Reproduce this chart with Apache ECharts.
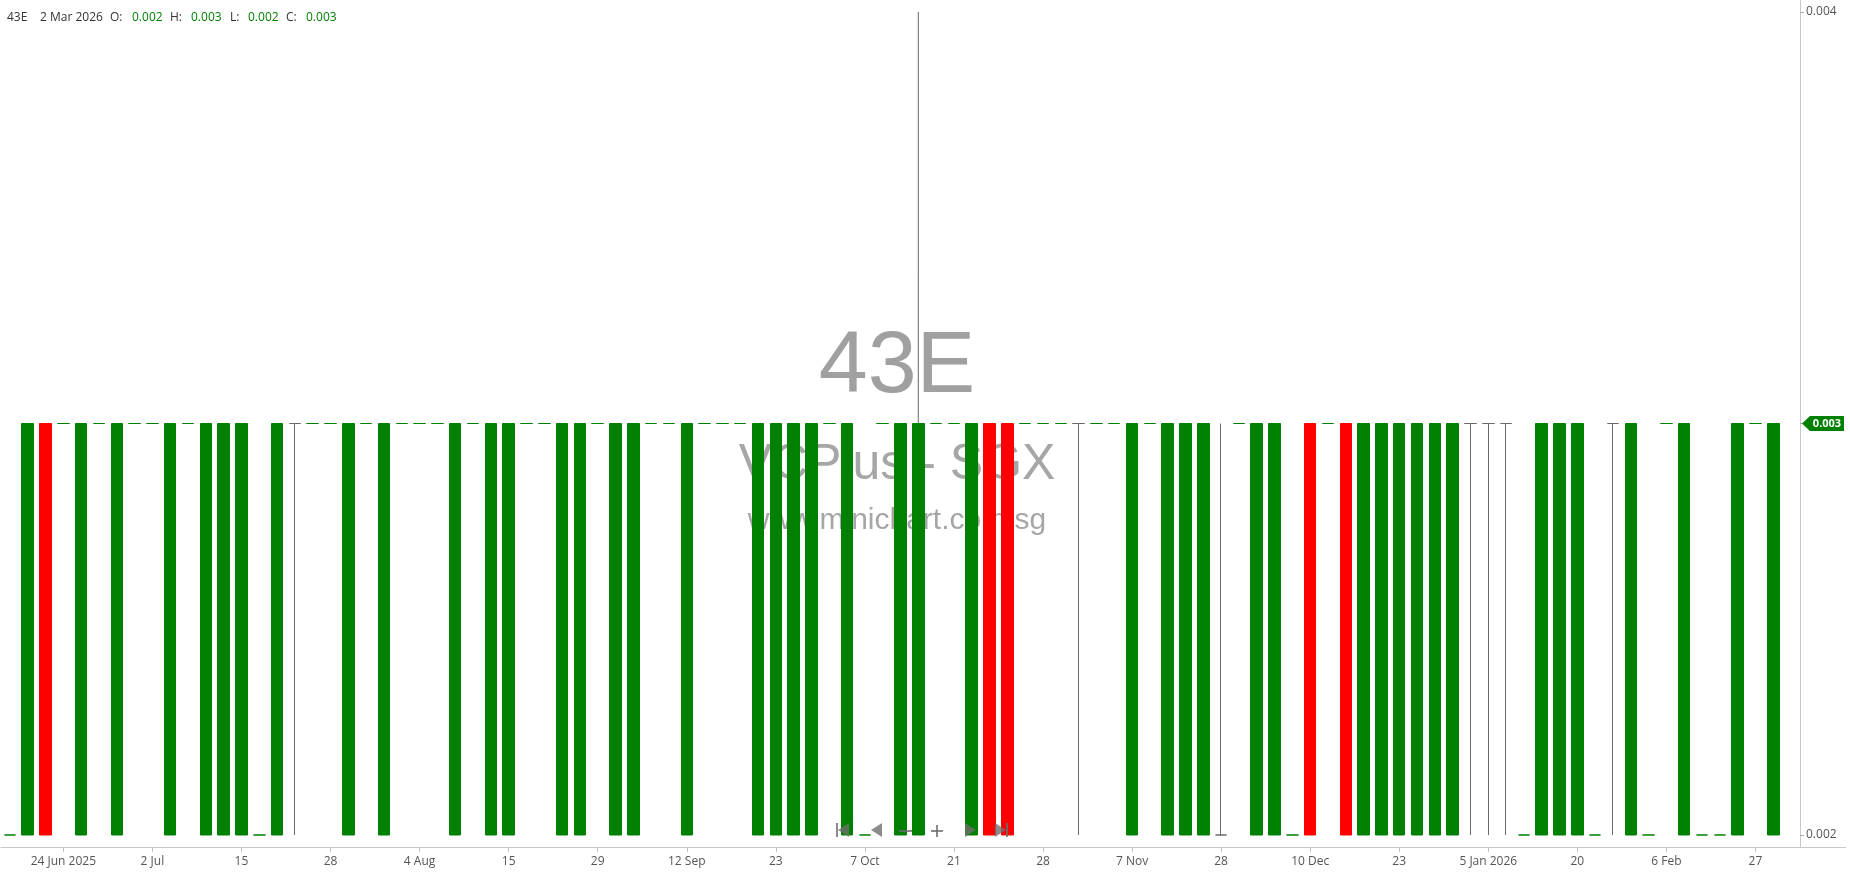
<!DOCTYPE html>
<html><head><meta charset="utf-8">
<script src="https://cdn.jsdelivr.net/npm/echarts@6/dist/echarts.min.js"></script>
<style>html,body{margin:0;padding:0;background:#fff}#c{width:1850px;height:874px}</style>
</head><body><div id="c"></div>
<script>
const ticker = '43E';
const exchangeText = 'VCPlus - SGX';
const siteText = 'www.minichart.com.sg';

const dates = [
 '2025-06-19','2025-06-20','2025-06-23','2025-06-24','2025-06-25','2025-06-26','2025-06-30','2025-07-01','2025-07-02','2025-07-04',
 '2025-07-08','2025-07-10','2025-07-14','2025-07-15','2025-07-17','2025-07-18','2025-07-22','2025-07-24','2025-07-28','2025-07-29',
 '2025-07-30','2025-07-31','2025-08-01','2025-08-04','2025-08-06','2025-08-08','2025-08-12','2025-08-13','2025-08-15','2025-08-19',
 '2025-08-21','2025-08-25','2025-08-27','2025-08-29','2025-09-02','2025-09-04','2025-09-08','2025-09-10','2025-09-12','2025-09-15',
 '2025-09-17','2025-09-18','2025-09-22','2025-09-23','2025-09-25','2025-09-29','2025-10-01','2025-10-03','2025-10-07','2025-10-09',
 '2025-10-13','2025-10-15','2025-10-17','2025-10-21','2025-10-22','2025-10-23','2025-10-24','2025-10-27','2025-10-28','2025-10-29',
 '2025-10-31','2025-11-03','2025-11-05','2025-11-07','2025-11-11','2025-11-14','2025-11-19','2025-11-24','2025-11-28','2025-12-01',
 '2025-12-03','2025-12-05','2025-12-08','2025-12-10','2025-12-12','2025-12-15','2025-12-17','2025-12-19','2025-12-23','2025-12-24',
 '2025-12-29','2025-12-31','2026-01-02','2026-01-05','2026-01-07','2026-01-09','2026-01-13','2026-01-15','2026-01-20','2026-01-22',
 '2026-01-27','2026-01-30','2026-02-03','2026-02-06','2026-02-10','2026-02-13','2026-02-20','2026-02-24','2026-02-27','2026-03-02'
];

const opens = [
 .002,.002,.003,.003,.002,.003,.002,.003,.003,.002,
 .003,.002,.002,.002,.002,.002,.003,.003,.003,.002,
 .003,.002,.003,.003,.003,.002,.003,.002,.002,.003,
 .003,.002,.002,.003,.002,.002,.003,.003,.002,.003,
 .003,.003,.002,.002,.002,.002,.003,.002,.002,.003,
 .002,.002,.003,.003,.002,.003,.003,.003,.003,.003,
 .003,.003,.003,.002,.003,.002,.002,.002,.002,.003,
 .002,.002,.002,.003,.003,.003,.002,.002,.002,.002,
 .002,.002,.003,.003,.003,.002,.002,.002,.002,.002,
 .003,.002,.002,.003,.002,.002,.002,.002,.003,.002
];
const closes = [
 .002,.003,.002,.003,.003,.003,.003,.003,.003,.003,
 .003,.003,.003,.003,.002,.003,.003,.003,.003,.003,
 .003,.003,.003,.003,.003,.003,.003,.003,.003,.003,
 .003,.003,.003,.003,.003,.003,.003,.003,.003,.003,
 .003,.003,.003,.003,.003,.003,.003,.003,.002,.003,
 .003,.003,.003,.003,.003,.002,.002,.003,.003,.003,
 .003,.003,.003,.003,.003,.003,.003,.003,.002,.003,
 .003,.003,.002,.002,.003,.002,.003,.003,.003,.003,
 .003,.003,.003,.003,.003,.002,.003,.003,.003,.002,
 .003,.003,.002,.003,.003,.002,.002,.003,.003,.003
];
const lows = [
 .002,.002,.002,.003,.002,.003,.002,.003,.003,.002,
 .003,.002,.002,.002,.002,.002,.002,.003,.003,.002,
 .003,.002,.003,.003,.003,.002,.003,.002,.002,.003,
 .003,.002,.002,.003,.002,.002,.003,.003,.002,.003,
 .003,.003,.002,.002,.002,.002,.003,.002,.002,.003,
 .002,.002,.003,.003,.002,.002,.002,.003,.003,.003,
 .002,.003,.003,.002,.003,.002,.002,.002,.002,.003,
 .002,.002,.002,.002,.003,.002,.002,.002,.002,.002,
 .002,.002,.002,.002,.002,.002,.002,.002,.002,.002,
 .002,.002,.002,.003,.002,.002,.002,.002,.003,.002
];
const highs = [
 .002,.003,.003,.003,.003,.003,.003,.003,.003,.003,
 .003,.003,.003,.003,.002,.003,.003,.003,.003,.003,
 .003,.003,.003,.003,.003,.003,.003,.003,.003,.003,
 .003,.003,.003,.003,.003,.003,.003,.003,.003,.003,
 .003,.003,.003,.003,.003,.003,.003,.003,.002,.003,
 .003,.003,.003,.003,.003,.003,.003,.003,.003,.003,
 .003,.003,.003,.003,.003,.003,.003,.003,.003,.003,
 .003,.003,.002,.003,.003,.003,.003,.003,.003,.003,
 .003,.003,.003,.003,.003,.002,.003,.003,.003,.002,
 .003,.003,.002,.003,.003,.002,.002,.003,.003,.003
];
const yTicks = [0.002, 0.003, 0.004];
const yMin = 0.0019708, yMax = 0.0040292;
const crosshairIndex = 51;

const UP = '#008000', DOWN = '#ff0000', DOJI = '#6a6a6a';
const MONTHS = ['Jan','Feb','Mar','Apr','May','Jun','Jul','Aug','Sep','Oct','Nov','Dec'];
const FONT = '"Open Sans", "Noto Sans", sans-serif';
const WM = '"Liberation Sans", Arial, sans-serif';

function parts(s){ const [y,m,d] = s.split('-').map(Number); return {y, m, d}; }
const labelInterval = (i) => i % 5 === 3;
function tickFormatter(value, index){
  const p = parts(dates[index]);
  const prevIdx = index - 5;
  if (prevIdx < 0) return p.d + ' ' + MONTHS[p.m-1] + ' ' + p.y;
  const q = parts(dates[prevIdx]);
  if (q.y !== p.y) return p.d + ' ' + MONTHS[p.m-1] + ' ' + p.y;
  if (q.m !== p.m) return p.d + ' ' + MONTHS[p.m-1];
  return String(p.d);
}

const candleData = opens.map((o, i) => {
  const c = closes[i], l = lows[i], h = highs[i];
  const item = { value: [o, c, l, h] };
  if (o === c) {
    const col = (h === l) ? UP : DOJI;
    item.itemStyle = { borderColor: col, borderColor0: col, borderColorDoji: col };
  }
  return item;
});

const last = dates.length - 1;
const lp = parts(dates[last]);
const lastDateText = lp.d + ' ' + MONTHS[lp.m-1] + ' ' + lp.y;
const fmt = v => v.toFixed(3);

const headerItems = [
  {t: ticker, x: 7, c: '#333'},
  {t: lastDateText, x: 40, c: '#333'},
  {t: 'O:', x: 110, c: '#333'}, {t: fmt(opens[last]), x: 132, c: UP},
  {t: 'H:', x: 170, c: '#333'}, {t: fmt(highs[last]), x: 191, c: UP},
  {t: 'L:', x: 230, c: '#333'}, {t: fmt(lows[last]), x: 248, c: UP},
  {t: 'C:', x: 286, c: '#333'}, {t: fmt(closes[last]), x: 306, c: UP}
];

const graphics = [];
headerItems.forEach(h => graphics.push({type:'text', x: h.x, y: 18, z: 50,
  style:{text: h.t, fill: h.c, font: '12px ' + FONT, verticalAlign: 'middle'}}));
graphics.push({type:'text', x: 897, y: 368, z: 0, style:{text: ticker, fill:'#a0a0a0', font: '88px ' + WM, align:'center', verticalAlign:'middle'}});
graphics.push({type:'text', x: 897, y: 465, z: 0, style:{text: exchangeText, fill:'#a6a6a6', font: '50px ' + WM, align:'center', verticalAlign:'middle'}});
graphics.push({type:'text', x: 897, y: 521, z: 0, style:{text: siteText, fill:'#a6a6a6', font: '30px ' + WM, align:'center', verticalAlign:'middle'}});
// navigation controls
const navFill = 'rgba(110,110,110,0.8)';
graphics.push({type:'rect', z:100, shape:{x:836, y:823, width:2, height:14}, style:{fill:navFill}});
graphics.push({type:'polygon', z:100, shape:{points:[[838,830],[849,823],[849,837]]}, style:{fill:navFill}});
graphics.push({type:'polygon', z:100, shape:{points:[[871,830],[882,823],[882,837]]}, style:{fill:navFill}});
graphics.push({type:'rect', z:100, shape:{x:899, y:830, width:13, height:2}, style:{fill:navFill}});
graphics.push({type:'rect', z:100, shape:{x:931, y:830, width:12, height:2}, style:{fill:navFill}});
graphics.push({type:'rect', z:100, shape:{x:936, y:825, width:2, height:12}, style:{fill:navFill}});
graphics.push({type:'polygon', z:100, shape:{points:[[976,830],[965,823],[965,837]]}, style:{fill:navFill}});
graphics.push({type:'polygon', z:100, shape:{points:[[1006,830],[995,823],[995,837]]}, style:{fill:navFill}});
graphics.push({type:'rect', z:100, shape:{x:1006, y:823, width:2, height:14}, style:{fill:navFill}});

const chart = echarts.init(document.getElementById('c'), null, {renderer:'canvas'});
chart.setOption({
  animation: false,
  backgroundColor: '#fff',
  grid: {left: 1, right: 50, top: 0, bottom: 27},
  xAxis: {
    type: 'category', data: dates, max: dates.length, boundaryGap: true,
    axisLine: {show: true, lineStyle: {color: '#c8c8c8'}},
    axisTick: {show: true, alignWithLabel: true, interval: labelInterval, length: 5, lineStyle: {color: '#c0c0c0'}},
    axisLabel: {interval: labelInterval, formatter: tickFormatter, color: '#555', fontSize: 12, fontFamily: FONT, margin: 9},
    splitLine: {show: false}
  },
  yAxis: {
    type: 'value', position: 'right', min: yMin, max: yMax, scale: true,
    axisLine: {show: true, lineStyle: {color: '#c8c8c8'}},
    axisTick: {show: true, length: 4, lineStyle: {color: '#aaa'}, customValues: yTicks},
    axisLabel: {color: '#555', fontSize: 12, fontFamily: FONT, margin: 6, customValues: yTicks, formatter: v => v.toFixed(3)},
    splitLine: {show: false}
  },
  graphic: {elements: graphics},
  series: [
    {
      type: 'line', z: 1, silent: true, symbol: 'none',
      data: [[crosshairIndex, yTicks[2]], [crosshairIndex, yTicks[0]]],
      lineStyle: {color: '#666', width: 1}
    },
    {
      type: 'candlestick', z: 2, barWidth: 12,
      data: candleData,
      itemStyle: {color: UP, color0: DOWN, borderColor: UP, borderColor0: DOWN, borderColorDoji: UP, borderWidth: 1}
    }
  ]
});

// last-price tag on the value axis
const yPix = chart.convertToPixel({yAxisIndex: 0}, closes[last]);
const axisX = 1800;
graphics.push({type:'polygon', z: 60, shape:{points:[[axisX+2, yPix],[axisX+10, yPix-7.5],[axisX+44, yPix-7.5],[axisX+44, yPix+7.5],[axisX+10, yPix+7.5]]}, style:{fill: UP}});
graphics.push({type:'text', z: 61, x: axisX+27, y: yPix+0.5, style:{text: fmt(closes[last]), fill:'#fff', font:'bold 11px ' + FONT, align:'center', verticalAlign:'middle'}});
graphics.push({type:'line', z: 5, shape:{x1: axisX, y1: 847.5, x2: 1846, y2: 847.5}, style:{stroke:'#c8c8c8', lineWidth: 1}});
chart.setOption({graphic: {elements: graphics}}, {replaceMerge: ['graphic']});
</script>
</body></html>
